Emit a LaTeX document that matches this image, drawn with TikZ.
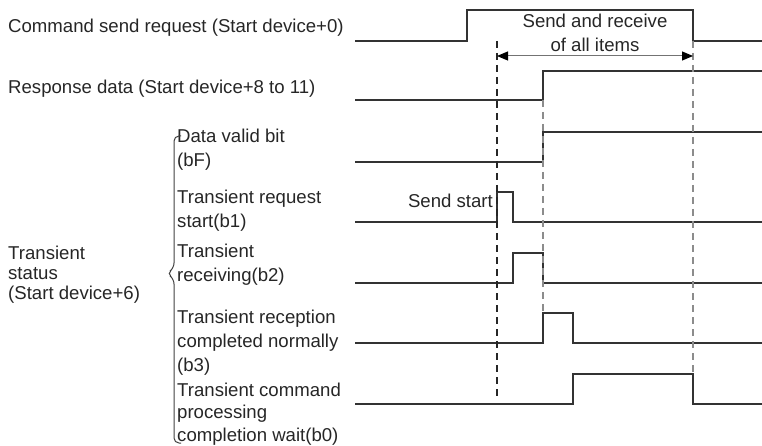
\documentclass[tikz,border=0pt]{standalone}
\usepackage{fontspec}
\setmainfont{Liberation Sans}
\usetikzlibrary{arrows.meta}

\tikzset{
  sig/.style={line width=1.4pt, black!80},
  guide/.style={line width=1.1pt, dash pattern=on 7pt off 5pt},
  lbl/.style={anchor=base west, inner sep=0pt, align=left, font=\fontsize{18.6pt}{24pt}\selectfont, text=black!85},
}

\begin{document}
\begin{tikzpicture}[x=1pt,y=-1pt]
\useasboundingbox (0,0) rectangle (762,446);

% labels (base = baseline of the last line)
\node (cmd) at (8,33) [lbl]{Command send request (Start device+0)};
\node (resp) at (8,94) [lbl]{Response data (Start device+8 to 11)};

\node (bF) at (177,167) [lbl]{Data valid bit\\(bF)};
\node (b1) at (177,227) [lbl]{Transient request\\start(b1)};
\node (b2) at (177,281) [lbl]{Transient\\receiving(b2)};
\node (b3) at (177,371) [lbl]{Transient reception\\completed normally\\(b3)};
\node (b0) at (177,441) [lbl,font=\fontsize{18.6pt}{22.5pt}\selectfont]{Transient command\\processing\\completion wait(b0)};

\node (stat) at (8,299) [lbl,font=\fontsize{18.6pt}{20pt}\selectfont]{Transient\\status\\(Start device+6)};

% brace
\draw [line width=1pt, black!75, rounded corners=5pt] (181,136)--(174,136)--(174,268)--(167,273.5)--(174,279)--(174,443)--(181,443);

% signals
\draw [sig] (355,41)--(467,41)--(467,10)--(693,10)--(693,41)--(762,41);
\draw [sig] (355,100)--(543,100)--(543,71)--(762,71);
\draw [sig] (355,162)--(543,162)--(543,132)--(762,132);
\draw [sig] (355,222)--(497,222)--(497,192)--(513,192)--(513,222)--(762,222);
\draw [sig] (355,283)--(513,283)--(513,253)--(543,253)--(543,283)--(762,283);
\draw [sig] (355,343)--(543,343)--(543,313)--(573,313)--(573,343)--(762,343);
\draw [sig] (355,404)--(573,404)--(573,374)--(693,374)--(693,404)--(762,404);

% timing marks
\draw [guide, black!85] (497,41)--(497,398);
\draw [guide, black!45] (543,100)--(543,313);
\draw [guide, black!45] (693,41)--(693,374);

\draw [line width=1pt, black!55, {Triangle[length=11pt,width=9pt,black]}-{Triangle[length=11pt,width=9pt,black]}] (497,56)--(693,56);
\node (all) at (595,52) [lbl,anchor=base,align=center]{Send and receive\\of all items};

\node (start) at (493,208) [lbl,anchor=base east]{Send start};

\end{tikzpicture}
\end{document}
